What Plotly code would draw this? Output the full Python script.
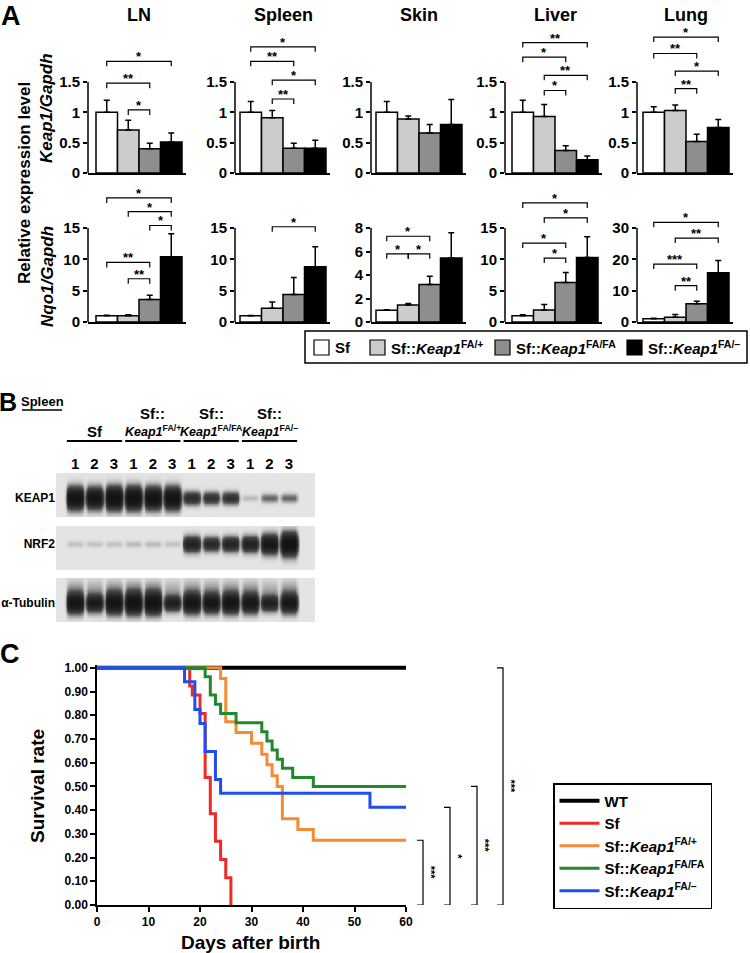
import numpy as np
import plotly.graph_objects as go

W, H = 750, 953
FONT = "Liberation Sans, Arial, sans-serif"


def px(x):
    return x / W


def py(y):
    return 1 - y / H


# ---------------- DATA ----------------
groups = ["Sf", "Sf::Keap1FA/+", "Sf::Keap1FA/FA", "Sf::Keap1FA/-"]
group_labels = ["<b>Sf</b>",
                "<b>Sf::<i>Keap1</i><sup>FA/+</sup></b>",
                "<b>Sf::<i>Keap1</i><sup>FA/FA</sup></b>",
                "<b>Sf::<i>Keap1</i><sup>FA/–</sup></b>"]
tissues = ["LN", "Spleen", "Skin", "Liver", "Lung"]

# Keap1/Gapdh (mean, SD)
keap1_ln = [1.00, 0.71, 0.40, 0.51]
keap1_ln_err = [0.20, 0.16, 0.09, 0.15]
keap1_spleen = [1.00, 0.91, 0.41, 0.41]
keap1_spleen_err = [0.18, 0.12, 0.08, 0.13]
keap1_skin = [1.00, 0.89, 0.66, 0.80]
keap1_skin_err = [0.18, 0.05, 0.14, 0.41]
keap1_liver = [1.00, 0.93, 0.37, 0.22]
keap1_liver_err = [0.20, 0.20, 0.08, 0.06]
keap1_lung = [1.00, 1.03, 0.52, 0.75]
keap1_lung_err = [0.09, 0.09, 0.12, 0.13]

# Nqo1/Gapdh (mean, SD)
nqo1_ln = [1.0, 1.0, 3.6, 10.4]
nqo1_ln_err = [0.08, 0.15, 0.65, 3.7]
nqo1_spleen = [1.0, 2.2, 4.4, 8.8]
nqo1_spleen_err = [0.05, 1.0, 2.7, 3.2]
nqo1_skin = [1.0, 1.45, 3.2, 5.45]
nqo1_skin_err = [0.05, 0.12, 0.7, 2.15]
nqo1_liver = [1.0, 1.9, 6.3, 10.3]
nqo1_liver_err = [0.15, 0.9, 1.6, 3.3]
nqo1_lung = [1.0, 1.5, 5.8, 15.7]
nqo1_lung_err = [0.2, 0.9, 0.8, 3.9]

keap1_ticks = [0, 0.5, 1, 1.5]
keap1_ticktext = ["0", "0.5", "1", "1.5"]
nqo1_ticks = [[0, 5, 10, 15], [0, 5, 10, 15], [0, 2, 4, 6, 8], [0, 5, 10, 15], [0, 10, 20, 30]]

# significance brackets: (group i, group j, height, label)
keap1_sig = [
    [(0, 3, 1.84, "*"), (0, 2, 1.48, "**"), (1, 2, 1.04, "*")],
    [(0, 3, 2.08, "*"), (0, 2, 1.84, "**"), (1, 3, 1.53, "*"), (1, 2, 1.22, "**")],
    [],
    [(0, 3, 2.15, "**"), (0, 2, 1.91, "*"), (1, 3, 1.61, "**"), (1, 2, 1.36, "*")],
    [(0, 3, 2.24, "*"), (0, 2, 1.97, "**"), (1, 3, 1.68, "*"), (1, 2, 1.39, "**")],
]
nqo1_sig = [
    [(0, 3, 19.8, "*"), (1, 3, 17.6, "*"), (2, 3, 15.4, "*"), (0, 2, 9.5, "**"), (1, 2, 6.9, "**")],
    [(1, 3, 15.2, "*")],
    [(0, 2, 7.3, "*"), (0, 1, 5.8, "*"), (1, 2, 5.8, "*")],
    [(0, 3, 19.0, "*"), (1, 3, 16.6, "*"), (0, 2, 12.6, "*"), (1, 2, 10.2, "*")],
    [(0, 3, 31.8, "*"), (1, 3, 26.8, "**"), (0, 2, 18.5, "***"), (1, 2, 11.6, "**")],
]

# Western blot (relative band intensity, lanes 1-12)
lane_numbers = ["1", "2", "3"] * 4
blot_proteins = ["KEAP1", "NRF2", "α-Tubulin"]
keap1_bands = [0.95, 0.90, 1.00, 1.00, 0.95, 0.95, 0.45, 0.40, 0.40, 0.05, 0.18, 0.18]
nrf2_bands = [0.04, 0.04, 0.04, 0.05, 0.05, 0.04, 0.60, 0.50, 0.55, 0.60, 0.80, 1.00]
tubulin_bands = [0.85, 0.70, 0.90, 0.95, 0.95, 0.60, 0.85, 0.80, 0.85, 0.80, 0.60, 0.80]

# Survival (Kaplan-Meier)
surv_names = ["<b>WT</b>", "<b>Sf</b>", group_labels[1], group_labels[2], group_labels[3]]
wt_days = [0, 60]
wt_surv = [1.0, 1.0]
sf_days = [0, 18, 18.5, 20, 21, 22, 23, 24, 25, 26]
sf_surv = [1.0, 0.923, 0.885, 0.808, 0.538, 0.385, 0.269, 0.192, 0.115, 0.0]
fa_plus_days = [0, 24, 25, 27, 30, 32, 33, 34, 35, 36, 39, 42, 60]
fa_plus_surv = [1.0, 0.955, 0.773, 0.727, 0.682, 0.636, 0.591, 0.545, 0.500, 0.364, 0.318, 0.273, 0.273]
fa_fa_days = [0, 21, 22, 23, 24, 27, 32, 33, 34, 35, 36, 38, 42, 60]
fa_fa_surv = [1.0, 0.962, 0.885, 0.846, 0.808, 0.769, 0.731, 0.692, 0.654, 0.615, 0.577, 0.538, 0.500, 0.500]
fa_minus_days = [0, 17, 19, 20, 21, 23, 24, 53, 60]
fa_minus_surv = [1.0, 0.941, 0.824, 0.765, 0.647, 0.529, 0.471, 0.412, 0.412]
surv_sig = ["***", "*", "***", "***"]  # FA/+, FA/-, FA/FA, WT  vs Sf

# ---------------- STYLE ----------------
bar_colors = ["#ffffff", "#cccccc", "#8e8e8e", "#000000"]
surv_colors = ["#000000", "#ee2a24", "#f58a35", "#1f8a2b", "#1f4ef0"]

fig = go.Figure()
shapes, annotations = [], []
layout = dict(template="none", width=W, height=H, margin=dict(l=0, r=0, t=0, b=0, pad=0),
              autosize=False,
              paper_bgcolor="white", plot_bgcolor="white", barmode="overlay",
              font=dict(family=FONT, color="black"), showlegend=True)


def ax_name(n):
    return ("x" if n == 1 else f"x{n}"), ("y" if n == 1 else f"y{n}")


def ax_key(n):
    return ("xaxis" if n == 1 else f"xaxis{n}"), ("yaxis" if n == 1 else f"yaxis{n}")


def label(x, y, text, size, xref="paper", yref="paper", angle=0, xanchor="center",
          yanchor="middle", yshift=0):
    return dict(x=x, y=y, xref=xref, yref=yref, text=text, showarrow=False, textangle=angle,
                xanchor=xanchor, yanchor=yanchor, yshift=yshift,
                font=dict(size=size, family=FONT, color="black"))


# ---------------- PANEL A ----------------
col_axis_px = [88, 235, 371, 505, 637]
col_bar_px = [96, 240, 376, 512, 643]
BW = 21.5
rows = [
    dict(means=[keap1_ln, keap1_spleen, keap1_skin, keap1_liver, keap1_lung],
         errs=[keap1_ln_err, keap1_spleen_err, keap1_skin_err, keap1_liver_err, keap1_lung_err],
         ticks=[keap1_ticks] * 5, sig=keap1_sig, y0=173, ytick=82, ytop=21),
    dict(means=[nqo1_ln, nqo1_spleen, nqo1_skin, nqo1_liver, nqo1_lung],
         errs=[nqo1_ln_err, nqo1_spleen_err, nqo1_skin_err, nqo1_liver_err, nqo1_lung_err],
         ticks=nqo1_ticks, sig=nqo1_sig, y0=322, ytick=228, ytop=186),
]

for r, row in enumerate(rows):
    for c in range(5):
        n = r * 5 + c + 1
        xn, yn = ax_name(n)
        xk, yk = ax_key(n)
        means, errs, ticks = row["means"][c], row["errs"][c], row["ticks"][c]
        for g in range(4):
            fig.add_trace(go.Bar(
                x=[g], y=[means[g]], width=1, xaxis=xn, yaxis=yn,
                marker=dict(color=bar_colors[g], line=dict(color="black", width=1.5)),
                error_y=dict(type="data", array=[errs[g]], arrayminus=[0], symmetric=False,
                             color="black", thickness=1.5, width=3),
                name=groups[g], showlegend=False, hoverinfo="y"))
        ax_px, bar_px = col_axis_px[c], col_bar_px[c]
        top = ticks[-1]
        unit_px = (row["y0"] - row["ytick"]) / top
        ymax = (row["y0"] - row["ytop"]) / unit_px
        layout[xk] = dict(domain=[px(ax_px), px(bar_px + 4 * BW + 4)],
                          range=[-0.5 - (bar_px - ax_px) / BW, 3.5 + 4 / BW],
                          showline=True, linecolor="black", linewidth=1.5, ticks="",
                          showticklabels=False, showgrid=False, zeroline=False, anchor=yn,
                          automargin=False)
        ttext = keap1_ticktext if r == 0 else [str(t) for t in ticks]
        layout[yk] = dict(domain=[py(row["y0"]), py(row["ytop"])], range=[0, ymax],
                          tickvals=ticks, ticktext=[f"<b>{t}</b>" for t in ttext],
                          ticks="outside", ticklen=4, tickwidth=1.5, tickcolor="black",
                          tickfont=dict(size=15, family=FONT), showline=False,
                          showgrid=False, zeroline=False, anchor=xn, automargin=False)
        shapes.append(dict(type="line", xref="paper", yref=yn, x0=px(ax_px), x1=px(ax_px),
                           y0=0, y1=top, line=dict(color="black", width=1.5)))
        d = 5 / unit_px
        for (i, j, h, lab) in row["sig"][c]:
            shapes.append(dict(type="path", xref=xn, yref=yn,
                               path=f"M {i},{h - d} L {i},{h} L {j},{h} L {j},{h - d}",
                               line=dict(color="black", width=1.2)))
            annotations.append(label((i + j) / 2, h, f"<b>{lab}</b>", 13, xref=xn, yref=yn,
                                     yanchor="bottom", yshift=-5))
        if r == 0:
            annotations.append(label(px(bar_px + 2 * BW), py(15), f"<b>{tissues[c]}</b>", 18))

annotations += [
    label(px(11), py(16), "<b>A</b>", 27),
    label(px(24), py(183), "<b>Relative expression level</b>", 17, angle=-90),
    label(px(47), py(108), "<b><i>Keap1/Gapdh</i></b>", 17, angle=-90),
    label(px(47), py(277), "<b><i>Nqo1/Gapdh</i></b>", 17, angle=-90),
]

# legend box for panel A (keyed swatches)
leg_x0, leg_x1, leg_y0, leg_y1 = 305, 747, 331, 363
shapes.append(dict(type="rect", xref="paper", yref="paper", x0=px(leg_x0), x1=px(leg_x1),
                   y0=py(leg_y1), y1=py(leg_y0), line=dict(color="black", width=1.5),
                   fillcolor="white", layer="below"))
leg_sw_px = [314, 370, 495, 627]
for g in range(4):
    sx = leg_sw_px[g]
    shapes.append(dict(type="rect", xref="paper", yref="paper", x0=px(sx), x1=px(sx + 15),
                       y0=py(355), y1=py(340), line=dict(color="black", width=1.2),
                       fillcolor=bar_colors[g]))
    annotations.append(label(px(sx + 19), py(347), group_labels[g], 15, xanchor="left"))

# ---------------- PANEL B ----------------
lanes = np.arange(1, 13)
xg = np.linspace(0.02, 13.34, 320)
yg = np.linspace(-1, 1, 70)
X, Y = np.meshgrid(xg, yg)
strips = [(keap1_bands, 473, 517, -0.14), (nrf2_bands, 526, 570, 0.18), (tubulin_bands, 578, 622, -0.14)]
for k, (bands, ytop_px, ybot_px, yc) in enumerate(strips):
    n = 12 + k
    xn, yn = ax_name(n)
    xk, yk = ax_key(n)
    acc = np.zeros_like(X)
    for lane, inten in zip(lanes, bands):
        sy = 0.12 + 0.32 * inten
        prof_x = np.exp(-((X - lane) / 0.43) ** 6)
        acc += 3.0 * inten * prof_x * np.exp(-((Y - yc) / sy) ** 2)
        if k == 2:
            acc += 0.35 * inten * prof_x * np.exp(-((Y - (yc + 0.55)) / 0.45) ** 2)
    z = 1 - np.exp(-acc)
    fig.add_trace(go.Heatmap(x=xg, y=yg, z=z, zmin=0, zmax=1, zsmooth="best", showscale=False,
                             colorscale=[[0, "#e4e4e4"], [0.5, "#4a4a4a"], [1, "#0c0c0c"]],
                             xaxis=xn, yaxis=yn, hoverinfo="skip"))
    layout[xk] = dict(domain=[px(56), px(315)], range=[0.02, 13.34], anchor=yn,
                      showgrid=False, zeroline=False, showline=False, ticks="",
                      side="top", tickvals=list(lanes) if k == 0 else [],
                      ticktext=[f"<b>{t}</b>" for t in lane_numbers] if k == 0 else [],
                      showticklabels=(k == 0), tickfont=dict(size=15, family=FONT),
                      automargin=False)
    layout[yk] = dict(domain=[py(ybot_px), py(ytop_px)], range=[-1, 1], anchor=xn,
                      showgrid=False, zeroline=False, showline=False, ticks="",
                      tickvals=[yc], ticktext=[f"<b>{blot_proteins[k]}</b>"],
                      tickfont=dict(size=12, family=FONT), automargin=False)

blot_headers = [("", "<b>Sf</b>"), ("<b>Sf::</b>", "<b><i>Keap1</i><sup>FA/+</sup></b>"),
                ("<b>Sf::</b>", "<b><i>Keap1</i><sup>FA/FA</sup></b>"),
                ("<b>Sf::</b>", "<b><i>Keap1</i><sup>FA/–</sup></b>")]
for gi, (l1, l2) in enumerate(blot_headers):
    first, last = lanes[3 * gi], lanes[3 * gi + 2]
    xc = (first + last) / 2
    if l1:
        annotations.append(label(xc, py(413), l1, 15, xref="x12"))
    annotations.append(label(xc, py(431), l2, 15 if gi == 0 else 12.5, xref="x12"))
    shapes.append(dict(type="line", xref="x12", yref="paper", x0=first - 0.42, x1=last + 0.42,
                       y0=py(441), y1=py(441), line=dict(color="black", width=2)))

annotations += [
    label(px(8), py(402), "<b>B</b>", 25),
    label(px(42), py(401), "<b>Spleen</b>", 13),
]
shapes.append(dict(type="line", xref="paper", yref="paper", x0=px(22), x1=px(62),
                   y0=py(410), y1=py(410), line=dict(color="black", width=1.5)))

# ---------------- PANEL C ----------------
surv_sets = [(wt_days, wt_surv), (sf_days, sf_surv), (fa_plus_days, fa_plus_surv),
             (fa_fa_days, fa_fa_surv), (fa_minus_days, fa_minus_surv)]
for k, (dd, ss) in enumerate(surv_sets):
    fig.add_trace(go.Scatter(x=dd, y=ss, mode="lines", xaxis="x11", yaxis="y11",
                             line=dict(shape="hv", color=surv_colors[k], width=4 if k == 0 else 3),
                             name=surv_names[k], showlegend=True))

yticks_c = [round(0.1 * i, 1) for i in range(11)]
layout["xaxis11"] = dict(domain=[px(97), px(406)], range=[0, 60], anchor="y11",
                         tickvals=list(range(0, 61, 10)),
                         ticktext=[f"<b>{v}</b>" for v in range(0, 61, 10)],
                         ticks="outside", ticklen=5, tickwidth=1.5, tickcolor="black",
                         showline=True, linecolor="black", linewidth=1.5,
                         showgrid=False, zeroline=False, tickfont=dict(size=12, family=FONT),
                         automargin=False)
layout["yaxis11"] = dict(domain=[py(905), py(665)], range=[0, 1.012], anchor="x11",
                         tickvals=yticks_c, ticktext=[f"<b>{v:.2f}</b>" for v in yticks_c],
                         ticks="outside", ticklen=5, tickwidth=1.5, tickcolor="black",
                         showline=True, linecolor="black", linewidth=1.5,
                         showgrid=False, zeroline=False, tickfont=dict(size=12, family=FONT),
                         automargin=False)

bracket_px = [423, 450, 477, 503]
bracket_top = [fa_plus_surv[-1], fa_minus_surv[-1], fa_fa_surv[-1], wt_surv[-1]]
bottom = sf_surv[-1]
for bx, btop, lab in zip(bracket_px, bracket_top, surv_sig):
    x0 = px(bx - 6)
    x1 = px(bx)
    shapes.append(dict(type="path", xref="paper", yref="y11",
                       path=f"M {x0},{btop} L {x1},{btop} L {x1},{bottom} L {x0},{bottom}",
                       line=dict(color="black", width=1.2)))
    annotations.append(label(px(bx + 8), (btop + bottom) / 2, f"<b>{lab}</b>", 11,
                             yref="y11", angle=90))

annotations += [
    label(px(10), py(654), "<b>C</b>", 27),
    label(px(250), py(942), "<b>Days after birth</b>", 19),
    label(px(37), py(786), "<b>Survival rate</b>", 19, angle=-90),
]

layout["legend"] = dict(x=px(553), y=py(783), xanchor="left", yanchor="top",
                        bordercolor="black", borderwidth=1.5, bgcolor="white",
                        font=dict(size=15, family=FONT), tracegroupgap=0, itemwidth=40,
                        traceorder="normal")

layout["shapes"] = shapes
layout["annotations"] = annotations
fig.update_layout(**layout)
fig.write_html("out.html", post_script="document.body.style.margin='0';",
               config={"displayModeBar": False})
